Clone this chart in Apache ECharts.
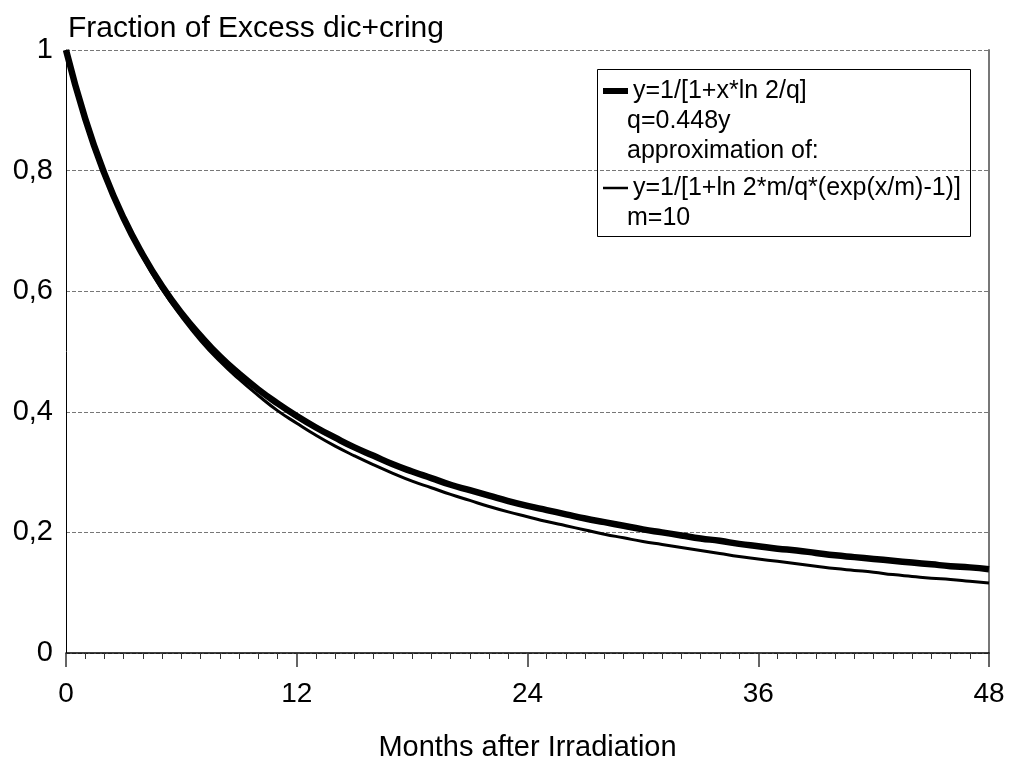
<!DOCTYPE html>
<html>
<head>
<meta charset="utf-8">
<script src="https://cdn.jsdelivr.net/npm/echarts@6/dist/echarts.min.js"></script>
<style>html,body{margin:0;padding:0;background:#fff;}#c{width:1010px;height:760px;}</style>
</head>
<body>
<div id="c"></div>
<script>
var months = [0,1,2,3,4,5,6,7,8,9,10,11,12,13,14,15,16,17,18,19,20,21,22,23,24,25,26,27,28,29,30,31,32,33,34,35,36,37,38,39,40,41,42,43,44,45,46,47,48];
var hyperbolic = [1,0.886,0.795,0.721,0.660,0.608,0.564,0.526,0.492,0.463,0.437,0.414,0.393,0.374,0.357,0.341,0.327,0.313,0.301,0.290,0.279,0.270,0.261,0.252,0.244,0.237,0.230,0.223,0.217,0.211,0.205,0.200,0.195,0.190,0.186,0.181,0.177,0.173,0.170,0.166,0.162,0.159,0.156,0.153,0.150,0.147,0.144,0.142,0.139];
var exponential = [1,0.885,0.794,0.719,0.656,0.603,0.558,0.518,0.484,0.454,0.427,0.402,0.381,0.361,0.343,0.327,0.312,0.298,0.285,0.274,0.263,0.253,0.243,0.234,0.226,0.218,0.211,0.204,0.197,0.191,0.185,0.180,0.175,0.170,0.165,0.160,0.156,0.152,0.148,0.144,0.140,0.137,0.134,0.130,0.127,0.124,0.122,0.119,0.116];
var seriesNames = ['y=1/[1+x*ln 2/q]', 'y=1/[1+ln 2*m/q*(exp(x/m)-1)]'];
var legendNotes = ['q=0.448y', 'approximation of:', 'm=10'];
var titleText = 'Fraction of Excess dic+cring';
var xName = 'Months after Irradiation';

function pairs(xs, ys){ return xs.map(function(x,i){ return [x, ys[i]]; }); }

var FONT = '"Liberation Sans", Arial, Helvetica, sans-serif';
var chart = echarts.init(document.getElementById('c'), null, {renderer:'canvas'});
chart.setOption({
  backgroundColor: '#fff',
  animation: false,
  title: {
    text: titleText, left: 63, top: 9,
    textStyle: {fontFamily: FONT, fontSize: 30, fontWeight: 'normal', color: '#000'}
  },
  grid: {left: 66, right: 21, top: 50, bottom: 107, containLabel: false, outerBoundsMode: 'none'},
  legend: {
    orient: 'vertical', left: 600, top: 76, padding: 0,
    itemWidth: 25, itemHeight: 30, itemGap: 67,
    itemStyle: {color: 'rgba(0,0,0,0)', borderColor: 'rgba(0,0,0,0)', borderWidth: 0},
    textStyle: {fontFamily: FONT, fontSize: 25, color: '#000', lineHeight: 30},
    data: [
      {name: seriesNames[0], lineStyle: {width: 6, color: '#000'}},
      {name: seriesNames[1], lineStyle: {width: 2.5, color: '#000'}}
    ]
  },
  xAxis: {
    type: 'value', min: 0, max: 48, interval: 12,
    name: xName, nameLocation: 'middle', nameGap: 80,
    nameTextStyle: {fontFamily: FONT, fontSize: 29, color: '#000'},
    axisLine: {show: true, lineStyle: {color: '#000', width: 1.5}},
    axisTick: {show: true, length: 14, lineStyle: {color: '#333', width: 1.5}},
    minorTick: {show: true, splitNumber: 12, length: 6, lineStyle: {color: '#333', width: 1}},
    axisLabel: {fontFamily: FONT, fontSize: 28, color: '#000', margin: 27},
    splitLine: {show: false}
  },
  yAxis: [{
    type: 'value', min: 0, max: 1, interval: 0.2,
    axisLine: {show: true, lineStyle: {color: '#000', width: 1}},
    axisTick: {show: false},
    axisLabel: {fontFamily: FONT, fontSize: 29, color: '#000', margin: 13,
      formatter: function(v){ return String(Math.round(v*10)/10).replace('.', ','); }},
    splitLine: {show: true, lineStyle: {color: '#777', type: [4,2], width: 1}}
  }, {
    type: 'value', min: 0, max: 1, interval: 0.2, position: 'right',
    axisLine: {show: true, lineStyle: {color: '#777', width: 2}},
    axisTick: {show: false}, axisLabel: {show: false}, splitLine: {show: false}
  }],
  series: [{
    name: seriesNames[0], type: 'line', data: pairs(months, hyperbolic),
    symbol: 'none', smooth: true, lineStyle: {color: '#000', width: 6.5}, itemStyle: {color: '#000'}, z: 3
  }, {
    name: seriesNames[1], type: 'line', data: pairs(months, exponential),
    symbol: 'none', smooth: true, lineStyle: {color: '#000', width: 3}, itemStyle: {color: '#000'}, z: 2
  }],
  graphic: [
    {type: 'rect', shape: {x: 597.5, y: 69.5, width: 373, height: 167}, style: {fill: 'none', stroke: '#000', lineWidth: 1}, z: 1},
    {type: 'text', left: 627, top: 109, style: {text: legendNotes[0], font: '25px ' + FONT, fill: '#000'}},
    {type: 'text', left: 627, top: 139, style: {text: legendNotes[1], font: '25px ' + FONT, fill: '#000'}},
    {type: 'text', left: 627, top: 206, style: {text: legendNotes[2], font: '25px ' + FONT, fill: '#000'}}
  ]
});
</script>
</body>
</html>
